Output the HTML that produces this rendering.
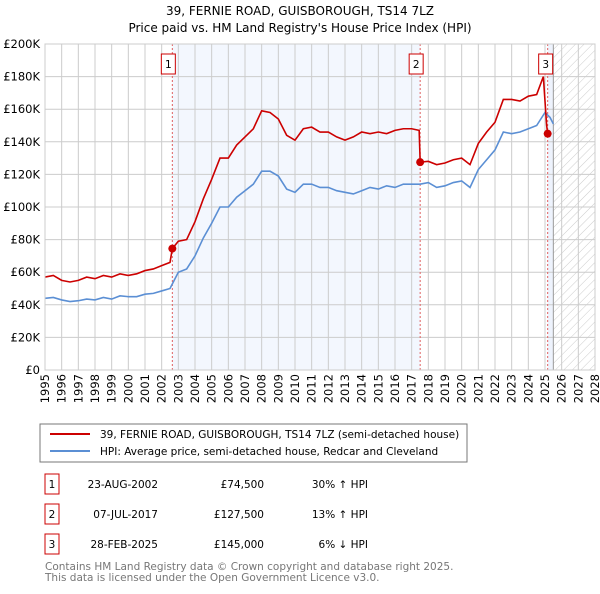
<!DOCTYPE html>
<html><head><meta charset="utf-8"><style>
body{margin:0;background:#fff;width:600px;height:590px;overflow:hidden;font-family:"DejaVu Sans","Liberation Sans",sans-serif}
svg text{font-family:"DejaVu Sans","Liberation Sans",sans-serif}
</style></head><body>
<svg id="c" width="600" height="590" xmlns="http://www.w3.org/2000/svg">
<defs><pattern id="hatch" width="6" height="6" patternUnits="userSpaceOnUse" patternTransform="rotate(45)"><line x1="0" y1="0" x2="0" y2="6" stroke="#ccc" stroke-width="1"/></pattern></defs>
<text x="300" y="15" text-anchor="middle" font-size="12">39, FERNIE ROAD, GUISBOROUGH, TS14 7LZ</text>
<text x="300" y="32" text-anchor="middle" font-size="12">Price paid vs. HM Land Registry's House Price Index (HPI)</text>
<g id="plot"></g>
<rect x="40" y="424" width="427" height="38" fill="#fff" stroke="#777"/>
<line x1="50" y1="434" x2="90" y2="434" stroke="#cc0000" stroke-width="2"/>
<text x="100" y="438" font-size="10.5">39, FERNIE ROAD, GUISBOROUGH, TS14 7LZ (semi-detached house)</text>
<line x1="50" y1="451" x2="90" y2="451" stroke="#5b8fd4" stroke-width="2"/>
<text x="100" y="455" font-size="10.5">HPI: Average price, semi-detached house, Redcar and Cleveland</text>
<g font-size="10.5" id="tbl"></g>
<text x="45" y="570" font-size="10.5" fill="#777">Contains HM Land Registry data © Crown copyright and database right 2025.</text>
<text x="45" y="581" font-size="10.5" fill="#777">This data is licensed under the Open Government Licence v3.0.</text>
</svg>
<script>
const yTicks=[0,20,40,60,80,100,120,140,160,180,200];
const yTickLabels=["£0","£20K","£40K","£60K","£80K","£100K","£120K","£140K","£160K","£180K","£200K"];
const xYears=[1995,1996,1997,1998,1999,2000,2001,2002,2003,2004,2005,2006,2007,2008,2009,2010,2011,2012,2013,2014,2015,2016,2017,2018,2019,2020,2021,2022,2023,2024,2025,2026,2027,2028];
const hpiT=[1995,1995.5,1996,1996.5,1997,1997.5,1998,1998.5,1999,1999.5,2000,2000.5,2001,2001.5,2002,2002.5,2003,2003.5,2004,2004.5,2005,2005.5,2006,2006.5,2007,2007.5,2008,2008.5,2009,2009.5,2010,2010.5,2011,2011.5,2012,2012.5,2013,2013.5,2014,2014.5,2015,2015.5,2016,2016.5,2017,2017.5,2018,2018.5,2019,2019.5,2020,2020.5,2021,2021.5,2022,2022.5,2023,2023.5,2024,2024.5,2025,2025.3,2025.5];
const hpiV=[44,44.5,43,42,42.5,43.5,43,44.5,43.5,45.5,45,45,46.5,47,48.5,50,60,62,70,81,90,100,100,106,110,114,122,122,119,111,109,114,114,112,112,110,109,108,110,112,111,113,112,114,114,114,115,112,113,115,116,112,123,129,135,146,145,146,148,150,158,155,151];
const redT=[1995,1995.5,1996,1996.5,1997,1997.5,1998,1998.5,1999,1999.5,2000,2000.5,2001,2001.5,2002,2002.5,2002.64,2003,2003.5,2004,2004.5,2005,2005.5,2006,2006.5,2007,2007.5,2008,2008.5,2009,2009.5,2010,2010.5,2011,2011.5,2012,2012.5,2013,2013.5,2014,2014.5,2015,2015.5,2016,2016.5,2017,2017.45,2017.51,2018,2018.5,2019,2019.5,2020,2020.5,2021,2021.5,2022,2022.5,2023,2023.5,2024,2024.5,2024.9,2025.1,2025.16,2025.3];
const redV=[57,58,55,54,55,57,56,58,57,59,58,59,61,62,64,66,74.5,79,80,91,105,117,130,130,138,143,148,159,158,154,144,141,148,149,146,146,143,141,143,146,145,146,145,147,148,148,147,127.5,128,126,127,129,130,126,139,146,152,166,166,165,168,169,180,150,145,143];
const sales=[{n:"1",t:2002.64,v:74.5,d:"23-AUG-2002",p:"£74,500",h:"30% ↑ HPI"},{n:"2",t:2017.51,v:127.5,d:"07-JUL-2017",p:"£127,500",h:"13% ↑ HPI"},{n:"3",t:2025.16,v:145,d:"28-FEB-2025",p:"£145,000",h:"6% ↓ HPI"}];
const X0=45,X1=595,Y0=370,Y1=44;
const sx=t=>X0+(t-1995)/(2028-1995)*(X1-X0);
const sy=v=>Y0-v/200*(Y0-Y1);
const NS="http://www.w3.org/2000/svg";
const g=document.getElementById('plot');
function mk(tag,a,parent){const e=document.createElementNS(NS,tag);for(const k in a)e.setAttribute(k,a[k]);(parent||g).appendChild(e);return e;}
let r=mk('rect',{x:sx(2002.64),y:Y1,width:sx(2017.51)-sx(2002.64),height:Y0-Y1,fill:'#eef3fd',opacity:0.7});


r=mk('rect',{x:sx(2025.16),y:Y1,width:sx(2025.5)-sx(2025.16),height:Y0-Y1,fill:'#eef3fd'});


r=mk('rect',{x:sx(2025.5),y:Y1,width:X1-sx(2025.5),height:Y0-Y1,fill:'url(#hatch)'});


yTicks.forEach((v,i)=>{
 mk('line',{x1:X0,x2:X1,y1:sy(v),y2:sy(v),stroke:'#ccc','stroke-width':1});
 const t=mk('text',{x:X0-5,y:sy(v)+4,'text-anchor':'end','font-size':11.5});t.textContent=yTickLabels[i];
 
 
});
xYears.forEach(y=>{
 mk('line',{x1:sx(y),x2:sx(y),y1:Y1,y2:Y0,stroke:'#ccc','stroke-width':1});
 const t=mk('text',{x:sx(y)+4,y:Y0+4,'text-anchor':'end','font-size':11.5,transform:`rotate(-90 ${sx(y)} ${Y0+4})`});
 t.setAttribute('x',sx(y));t.setAttribute('y',Y0+4);
 t.setAttribute('transform',`rotate(-90 ${sx(y)} ${Y0+4})`);
 t.setAttribute('dy','4');
 t.textContent=y;
 
 
});
mk('line',{x1:sx(2025.5),x2:sx(2025.5),y1:Y1,y2:Y0,stroke:'#999','stroke-width':1});
sales.forEach(s=>{
 mk('line',{x1:sx(s.t),x2:sx(s.t),y1:Y1,y2:Y0,stroke:'#e06060','stroke-width':1,'stroke-dasharray':'2,2'});
});
const hp=mk('polyline',{points:hpiT.map((t,i)=>sx(t)+','+sy(hpiV[i])).join(' '),fill:'none',stroke:'#5b8fd4','stroke-width':1.6});


const rp=mk('polyline',{points:redT.map((t,i)=>sx(t)+','+sy(redV[i])).join(' '),fill:'none',stroke:'#cc0000','stroke-width':1.6});


sales.forEach(s=>{
 const c=mk('circle',{cx:sx(s.t),cy:sy(s.v),r:4,fill:'#cc0000'});
 
 
 const bx=sx(s.t)-7-(s.n==="3"?2:0)+(s.n==="1"?-4:0)-(s.n==="2"?4:0);
 const b=mk('rect',{x:bx,y:54,width:14,height:20,fill:'#fff',stroke:'#cc0000'});
 
 
 const t=mk('text',{x:bx+7,y:68,'text-anchor':'middle','font-size':10.5});t.textContent=s.n;
 
 
});
mk('rect',{x:X0,y:Y1,width:X1-X0,height:Y0-Y1,fill:'none',stroke:'#ccc'});
const tb=document.getElementById('tbl');
sales.forEach((s,i)=>{
 const y=484+i*30;
 const b=mk('rect',{x:45,y:y-10,width:14,height:20,fill:'#fff',stroke:'#cc0000'},tb);
 
 
 let t=mk('text',{x:52,y:y+4,'text-anchor':'middle'},tb);t.textContent=s.n;
 t=mk('text',{x:158,y:y+4,'text-anchor':'end'},tb);t.textContent=s.d;
 
 
 t=mk('text',{x:264,y:y+4,'text-anchor':'end'},tb);t.textContent=s.p;
 
 
 t=mk('text',{x:368,y:y+4,'text-anchor':'end'},tb);t.textContent=s.h;
 
 
});
</script>
</body></html>
